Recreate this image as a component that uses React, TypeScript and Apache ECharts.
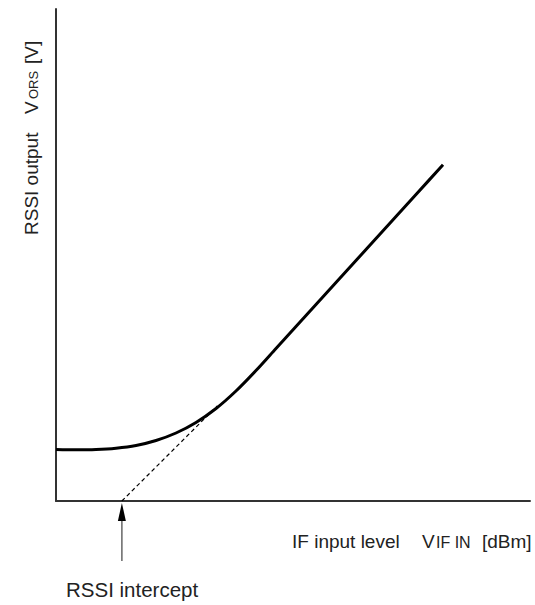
import React, { useEffect, useRef } from "react";
import * as echarts from "echarts";

// Response curve (arbitrary units)
const curveX = [0, 4.22, 8.44, 12.66, 16.88, 21.1, 25.32, 29.54, 33.76, 37.97, 42.19, 46.41, 50.63, 59.07, 67.51, 75.95, 81.65];
const curveY = [10.47, 10.41, 10.47, 10.73, 11.28, 12.3, 13.82, 15.96, 18.8, 22.36, 26.52, 31.0, 35.47, 44.41, 53.35, 62.3, 68.33];
// Extrapolated linear part down to the intercept
const tangentX = [13.9, 34.0];
const tangentY = [0, 19.3];
const interceptX = 13.9;

const FONT = "'Liberation Sans', Arial, sans-serif";
const COLOR = "#222";

function txt(text: string, x: number, y: number, size: number, rot = 0) {
  return {
    type: "text",
    x,
    y,
    rotation: rot,
    style: {
      text,
      fill: COLOR,
      font: `${size}px ${FONT}`,
      textAlign: "left",
      textVerticalAlign: "bottom",
    },
  };
}

export default function App() {
  const ref = useRef<HTMLDivElement>(null);
  useEffect(() => {
    if (!ref.current) return;
    const chart = echarts.init(ref.current, null, { renderer: "svg" });
    const axisCommon = {
      type: "value" as const,
      min: 0,
      max: 100,
      axisLine: { show: true, lineStyle: { color: "#333", width: 2 } },
      axisTick: { show: false },
      axisLabel: { show: false },
      splitLine: { show: false },
    };
    chart.setOption({
      animation: false,
      backgroundColor: "#fff",
      grid: { left: 56, right: 5, top: 9, bottom: 104 },
      xAxis: axisCommon,
      yAxis: axisCommon,
      series: [
        {
          type: "line",
          data: curveX.map((x, i) => [x, curveY[i]]),
          smooth: 0.3,
          symbol: "none",
          lineStyle: { color: "#000", width: 3 },
          z: 3,
        },
        {
          type: "line",
          data: tangentX.map((x, i) => [x, tangentY[i]]),
          symbol: "none",
          lineStyle: { color: "#000", width: 1.2, type: [4, 3] },
          z: 2,
        },
      ],
    });
    const p = chart.convertToPixel({ gridIndex: 0 }, [interceptX, 0]) as number[];
    const ax = p[0];
    const ay = p[1];
    const R = Math.PI / 2;
    chart.setOption({
      graphic: [
        {
          type: "line",
          shape: { x1: ax, y1: ay + 18, x2: ax, y2: ay + 60 },
          style: { stroke: "#666", lineWidth: 1.5 },
        },
        {
          type: "polygon",
          shape: { points: [[ax, ay + 2], [ax - 4, ay + 20], [ax + 4, ay + 20]] },
          style: { fill: "#000" },
        },
        txt("RSSI intercept", 66, 600, 20.5),
        // x axis title
        txt("IF input level", 292, 551, 19),
        txt("V", 422, 551, 19),
        txt("IF IN", 436, 550, 16),
        txt("[dBm]", 482, 551, 19),
        // y axis title (rotated)
        txt("RSSI output", 41, 235, 19, R),
        txt("V", 41, 114, 19, R),
        txt("ORS", 40, 99, 13, R),
        txt("[V]", 41, 64, 19, R),
      ],
    });
    return () => chart.dispose();
  }, []);
  return (
    <div
      ref={ref}
      style={{ position: "fixed", left: 0, top: 0, width: 535, height: 605, background: "#fff" }}
    />
  );
}
